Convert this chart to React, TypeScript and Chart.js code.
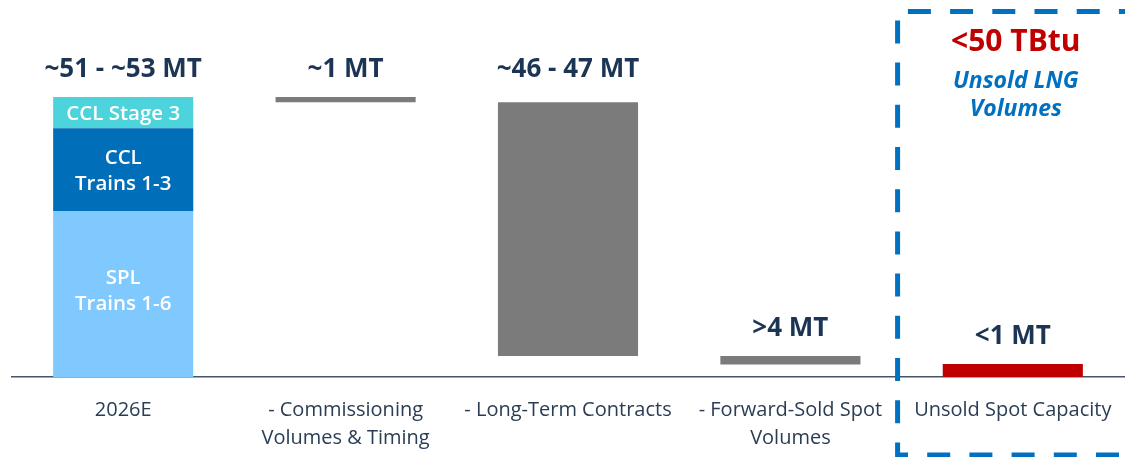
import React, { useEffect, useRef } from "react";
import { Chart, registerables } from "chart.js";

Chart.register(...registerables);

// ---- data ----
const categories: (string | string[])[] = [
  "2026E",
  ["- Commissioning", "Volumes & Timing"],
  "- Long-Term Contracts",
  ["- Forward-Sold Spot", "Volumes"],
  "Unsold Spot Capacity",
];
const splTrains: [number, number] = [0, 30.8];
const cclTrains: [number, number] = [30.8, 46.2];
const cclStage3: [number, number] = [46.2, 52];
const commissioning: [number, number] = [51, 52];
const longTerm: [number, number] = [3.9, 51];
const forwardSold: [number, number] = [2.3, 3.9];
const unsoldSpot: [number, number] = [0, 2.4];
const valueLabels = ["~51 - ~53 MT", "~1 MT", "~46 - 47 MT", ">4 MT", "<1 MT"];
const segmentLabels = [["SPL", "Trains 1-6"], ["CCL", "Trains 1-3"], ["CCL Stage 3"]];
const calloutValue = "<50 TBtu";
const calloutText = ["Unsold LNG", "Volumes"];

const FONT = "'Open Sans', 'Noto Sans', sans-serif";
const NAVY = "#1d3554";

function at(i: number, v: [number, number]) {
  return categories.map((_, k) => (k === i ? v : null));
}

export default function App() {
  const ref = useRef<HTMLCanvasElement | null>(null);

  useEffect(() => {
    if (!ref.current) return;
    const segs = [splTrains, cclTrains, cclStage3];
    const bars: [number, number][] = [cclStage3, commissioning, longTerm, forwardSold, unsoldSpot];
    const total = cclStage3[1];

    const labelPlugin = {
      id: "labels",
      afterDatasetsDraw(chart: any) {
        const ctx = chart.ctx;
        const xs = chart.scales.x;
        const ys = chart.scales.y;
        ctx.save();
        ctx.textAlign = "center";
        ctx.textBaseline = "middle";
        // in-bar segment labels
        ctx.fillStyle = "#ffffff";
        ctx.font = `600 20.5px ${FONT}`;
        segs.forEach((s, i) => {
          const cx = xs.getPixelForValue(0);
          const cy = (ys.getPixelForValue(s[0]) + ys.getPixelForValue(s[1])) / 2 - (i === 0 ? 5 : 0);
          const lines = segmentLabels[i];
          const lh = 26;
          lines.forEach((t, j) => {
            ctx.fillText(t, cx, cy + (j - (lines.length - 1) / 2) * lh + 2);
          });
        });
        // value labels
        ctx.fillStyle = NAVY;
        ctx.font = `bold 26px ${FONT}`;
        bars.forEach((b, i) => {
          const top = i < 3 ? total : b[1];
          const cx = xs.getPixelForValue(i);
          const cy = ys.getPixelForValue(top) - 27;
          ctx.fillText(valueLabels[i], cx, cy);
        });
        // callout
        const cx4 = xs.getPixelForValue(4) + 3;
        ctx.fillStyle = "#c00000";
        ctx.font = `bold 30px ${FONT}`;
        ctx.fillText(calloutValue, cx4, 42);
        ctx.fillStyle = "#0070c0";
        ctx.font = `italic bold 23px ${FONT}`;
        calloutText.forEach((t, j) => ctx.fillText(t, cx4, 81 + j * 28));

        // dashed box
        const left = (xs.getPixelForValue(3) + xs.getPixelForValue(4)) / 2 - 4;
        const top = 11.5;
        const bottom = 455;
        const right = 1160;
        const P = 42.2;
        const L1 = right - left;
        const off = (L1 - 8) % P;
        ctx.beginPath();
        ctx.moveTo(right, bottom);
        ctx.lineTo(left, bottom);
        ctx.lineTo(left, top);
        ctx.lineTo(right, top);
        ctx.setLineDash([23, P - 23]);
        ctx.lineDashOffset = off;
        ctx.lineWidth = 5;
        ctx.strokeStyle = "#0070c0";
        ctx.stroke();
        ctx.restore();
      },
    };

    const common = { barPercentage: 0.63, categoryPercentage: 1, grouped: false, borderWidth: 0 };
    const chart = new Chart(ref.current, {
      type: "bar",
      data: {
        labels: categories,
        datasets: [
          { label: "SPL Trains 1-6", data: at(0, splTrains), backgroundColor: "#7fc9ff", ...common },
          { label: "CCL Trains 1-3", data: at(0, cclTrains), backgroundColor: "#006eb8", ...common },
          { label: "CCL Stage 3", data: at(0, cclStage3), backgroundColor: "#4dd3dc", ...common },
          { label: "Commissioning", data: at(1, commissioning), backgroundColor: "#7b7b7b", ...common },
          { label: "Long-Term", data: at(2, longTerm), backgroundColor: "#7b7b7b", ...common },
          { label: "Forward-Sold", data: at(3, forwardSold), backgroundColor: "#7b7b7b", ...common },
          { label: "Unsold", data: at(4, unsoldSpot), backgroundColor: "#c00000", ...common },
        ] as any,
      },
      options: {
        animation: false,
        responsive: false,
        maintainAspectRatio: false,
        layout: { padding: { left: 12, right: 1, top: 0, bottom: 0 } },
        plugins: { legend: { display: false }, tooltip: { enabled: false } },
        scales: {
          x: {
            grid: { display: false },
            border: { display: true, color: "#44546a", width: 1.5 },
            ticks: {
              color: "#2a3d55",
              font: { family: FONT, size: 20, lineHeight: 1.4 } as any,
              padding: 11,
              maxRotation: 0,
              autoSkip: false,
            },
            afterFit: (scale: any) => {
              scale.height = 80;
            },
          },
          y: { display: false, min: 0, max: 70 },
        },
      },
      plugins: [labelPlugin],
    });
    return () => chart.destroy();
  }, []);

  return (
    <div style={{ position: "fixed", left: 0, top: 0, width: 1125, height: 457, background: "#fff" }}>
      <canvas ref={ref} width={1125} height={457} style={{ width: 1125, height: 457 }} />
    </div>
  );
}
